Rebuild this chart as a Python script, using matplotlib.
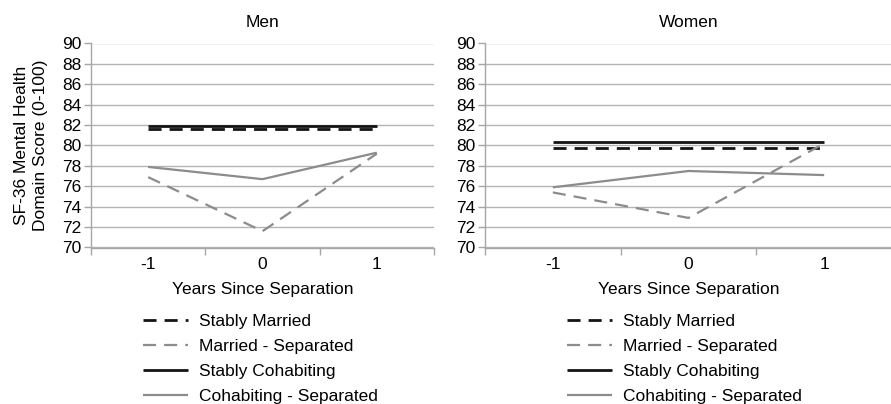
import matplotlib
matplotlib.use("Agg")
import matplotlib.pyplot as plt

plt.rcParams['font.family'] = ['Liberation Sans', 'DejaVu Sans']
plt.rcParams['font.size'] = 12.5
plt.rcParams['lines.scale_dashes'] = False

# data
years = ['-1', '0', '1']
series = ['Stably Married', 'Married - Separated', 'Stably Cohabiting', 'Cohabiting - Separated']
men_stably_married = [81.6, 81.6, 81.6]
men_married_sep = [76.9, 71.6, 79.2]
men_stably_cohab = [81.9, 81.9, 81.9]
men_cohab_sep = [77.9, 76.7, 79.3]
women_stably_married = [79.8, 79.8, 79.8]
women_married_sep = [75.4, 72.9, 80.2]
women_stably_cohab = [80.3, 80.3, 80.3]
women_cohab_sep = [75.9, 77.5, 77.1]

black = '#141414'
grey = '#8c8c8c'
axis_grey = '#a6a6a6'
dash = (0, (9.4, 5.8))
styles = [dict(color=black, lw=2.0, ls=dash),
          dict(color=grey, lw=1.6, ls=dash),
          dict(color=black, lw=2.0, ls='-'),
          dict(color=grey, lw=1.6, ls='-')]

fig = plt.figure(figsize=(8.91, 4.04), dpi=100)
ax_m = fig.add_axes([91 / 891, 1 - 247.5 / 404, 343 / 891, 204 / 404])
ax_w = fig.add_axes([485 / 891, 1 - 247.5 / 404, 407 / 891, 204 / 404])

panels = [(ax_m, 'Men', [men_stably_married, men_married_sep, men_stably_cohab, men_cohab_sep], 143),
          (ax_w, 'Women', [women_stably_married, women_married_sep, women_stably_cohab, women_cohab_sep], 567)]

for ax, title, data, leg_x in panels:
    x = list(range(len(years)))
    handles = []
    for name, vals, st in zip(series, data, styles):
        h, = ax.plot(x, vals, label=name, solid_capstyle='butt', dash_capstyle='butt', **st)
        handles.append(h)
    ax.set_xlim(-0.5, len(years) - 0.5)
    ax.set_ylim(70, 90)
    ax.set_yticks(range(70, 91, 2))
    ax.set_xticks([i - 0.5 for i in range(len(years) + 1)])
    ax.set_xticklabels([])
    ax.set_xticks(x, minor=True)
    ax.set_xticklabels(years, minor=True)
    ax.tick_params(axis='x', which='major', direction='out', length=5, color=axis_grey, width=1)
    ax.tick_params(axis='x', which='minor', length=0, pad=7)
    ax.tick_params(axis='y', direction='out', length=5, color=axis_grey, width=1, pad=2)
    ax.grid(axis='y', color='#b4b4b4', lw=1)
    ax.set_axisbelow(True)
    for s in ['top', 'right']:
        ax.spines[s].set_visible(False)
    for s in ['left', 'bottom']:
        ax.spines[s].set_color(axis_grey)
        ax.spines[s].set_linewidth(1)
    ax.set_title(title, fontsize=12.5, pad=12)
    ax.set_xlabel('Years Since Separation', labelpad=7)
    ax.legend(handles=handles, loc='upper left', bbox_to_anchor=(leg_x / 891, 1 - 314 / 404),
              bbox_transform=fig.transFigure, frameon=False, borderpad=0, borderaxespad=0,
              handlelength=2.6, handletextpad=0.65, labelspacing=0.56, fontsize=12.5)

ax_m.set_ylabel('SF-36 Mental Health\nDomain Score (0-100)', labelpad=10, linespacing=1.3)

fig.savefig('out.png', dpi=100)
